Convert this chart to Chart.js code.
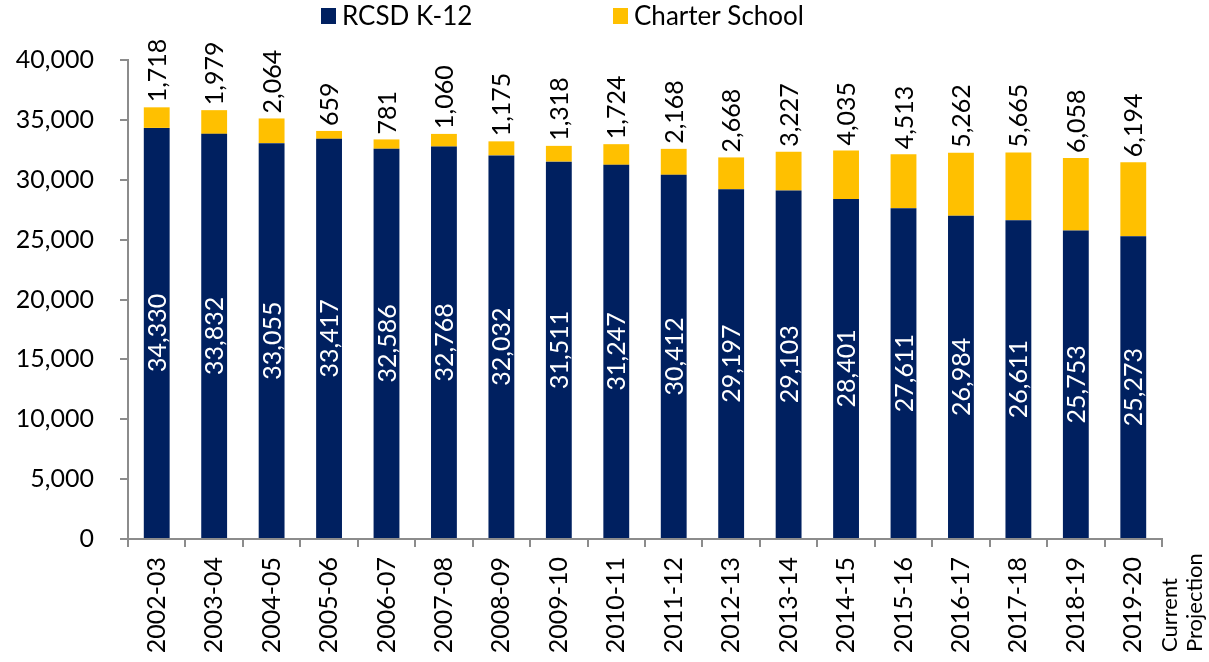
<!DOCTYPE html>
<html>
<head>
<meta charset="utf-8">
<script src="https://cdn.jsdelivr.net/npm/chart.js@4.4.1/dist/chart.umd.min.js"></script>
<style>
  html, body { margin: 0; padding: 0; background: #fff; }
  #wrap { width: 1209px; height: 662px; position: relative; }
</style>
</head>
<body>
<div id="wrap"><canvas id="enrollment"></canvas></div>
<script>
var years = ["2002-03", "2003-04", "2004-05", "2005-06", "2006-07", "2007-08", "2008-09", "2009-10", "2010-11",
             "2011-12", "2012-13", "2013-14", "2014-15", "2015-16", "2016-17", "2017-18", "2018-19", "2019-20"];
var rcsd = [34330, 33832, 33055, 33417, 32586, 32768, 32032, 31511, 31247,
            30412, 29197, 29103, 28401, 27611, 26984, 26611, 25753, 25273];
var charter = [1718, 1979, 2064, 659, 781, 1060, 1175, 1318, 1724,
               2168, 2668, 3227, 4035, 4513, 5262, 5665, 6058, 6194];
var yTicks = [0, 5000, 10000, 15000, 20000, 25000, 30000, 35000, 40000];
var lastNote = ["Current", "Projection"];

var FONT = "Lato, 'Open Sans', sans-serif";
var navy = "#002060";
var gold = "#FFC000";
var axisGrey = "#8c8c8c";

function fmt(v) { return v.toLocaleString("en-US"); }

// value labels, legend and the projection note
var labelsPlugin = {
  id: "labels",
  afterDatasetsDraw: function(chart) {
    var ctx = chart.ctx;
    ctx.save();
    ctx.font = "25px " + FONT;
    ctx.textBaseline = "middle";

    var inner = chart.getDatasetMeta(0).data;
    inner.forEach(function(bar, i) {
      ctx.save();
      ctx.translate(bar.x, (bar.y + bar.base) / 2);
      ctx.rotate(-Math.PI / 2);
      ctx.textAlign = "center";
      ctx.fillStyle = "#fff";
      ctx.fillText(fmt(rcsd[i]), 0, 1);
      ctx.restore();
    });

    var top = chart.getDatasetMeta(1).data;
    top.forEach(function(bar, i) {
      ctx.save();
      ctx.translate(bar.x, bar.y - 5);
      ctx.rotate(-Math.PI / 2);
      ctx.textAlign = "left";
      ctx.fillStyle = "#000";
      ctx.fillText(fmt(charter[i]), 0, 1);
      ctx.restore();
    });

    // legend
    var legendX = [321, 613];
    ctx.font = "26px " + FONT;
    chart.data.datasets.forEach(function(ds, i) {
      ctx.fillStyle = ds.backgroundColor;
      ctx.fillRect(legendX[i], 8, 15, 16);
      ctx.fillStyle = "#000";
      ctx.textAlign = "left";
      ctx.fillText(ds.label, legendX[i] + 21, 17);
    });

    // "Current Projection" under the last category
    var xs = chart.scales.x;
    var lx = xs.getPixelForValue(years.length - 1);
    ctx.font = "22px " + FONT;
    ctx.fillStyle = "#000";
    lastNote.forEach(function(line, k) {
      ctx.save();
      ctx.translate(lx + 37 + k * 25, 652);
      ctx.rotate(-Math.PI / 2);
      ctx.textAlign = "left";
      ctx.fillText(line, 0, 0);
      ctx.restore();
    });
    ctx.restore();
  }
};

var ctx = document.getElementById("enrollment");
var chart = new Chart(ctx, {
  type: "bar",
  data: {
    labels: years,
    datasets: [
      { label: "RCSD K-12", data: rcsd, backgroundColor: navy, barPercentage: 0.45, categoryPercentage: 1 },
      { label: "Charter School", data: charter, backgroundColor: gold, barPercentage: 0.45, categoryPercentage: 1 }
    ]
  },
  options: {
    responsive: true,
    maintainAspectRatio: false,
    animation: false,
    layout: { padding: { top: 60, right: 47, left: 0, bottom: 0 } },
    plugins: {
      legend: { display: false },
      tooltip: { enabled: false }
    },
    scales: {
      x: {
        stacked: true,
        grid: { display: true, drawOnChartArea: false, drawTicks: true, tickLength: 8, color: axisGrey, lineWidth: 2, offset: true },
        border: { color: axisGrey, width: 2 },
        ticks: { color: "#000", font: { family: FONT, size: 25 }, minRotation: 90, maxRotation: 90, padding: 10, autoSkip: false },
        afterFit: function(scale) { scale.height = 123; }
      },
      y: {
        stacked: true,
        min: 0,
        max: 40000,
        afterBuildTicks: function(scale) { scale.ticks = yTicks.map(function(v) { return { value: v }; }); },
        grid: { display: true, drawOnChartArea: false, drawTicks: true, tickLength: 8, color: axisGrey, lineWidth: 2 },
        border: { color: axisGrey, width: 2 },
        ticks: { color: "#000", font: { family: FONT, size: 25 }, padding: 26, callback: function(v) { return fmt(v); } },
        afterFit: function(scale) { scale.width = 128; }
      }
    }
  },
  plugins: [labelsPlugin]
});
</script>
</body>
</html>
